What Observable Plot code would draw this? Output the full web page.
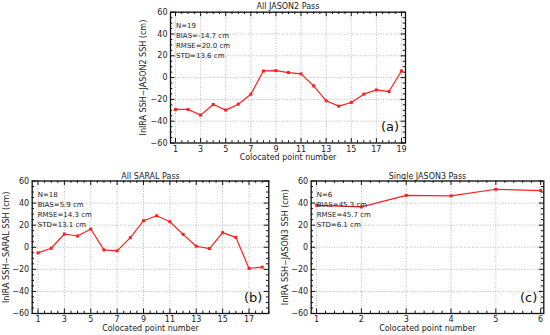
<!DOCTYPE html>
<html>
<head>
<meta charset="utf-8">
<script src="https://cdn.jsdelivr.net/npm/d3@7"></script>
<script src="https://cdn.jsdelivr.net/npm/@observablehq/plot@0.6"></script>
<style>
  html, body { margin: 0; padding: 0; background: #fff; }
  #wrap { position: relative; width: 550px; height: 335px; overflow: hidden; font-family: "DejaVu Sans", sans-serif; }
  #wrap > div { position: absolute; }
</style>
</head>
<body>
<div id="wrap">
  <div id="pa"></div>
  <div id="pb"></div>
  <div id="pc"></div>
</div>
<script>
// ---- Data ----
const pointsA = [1,2,3,4,5,6,7,8,9,10,11,12,13,14,15,16,17,18,19];
const diffA = [-29.2,-29.2,-34.4,-24.7,-29.8,-24.4,-15.2,6.1,6.4,4.6,3.4,-7.6,-21.3,-26.2,-22.8,-15.2,-11.3,-12.8,6.1];

const pointsB = [1,2,3,4,5,6,7,8,9,10,11,12,13,14,15,16,17,18];
const diffB = [-5.1,-0.9,12.0,10.2,16.5,-2.4,-3.3,8.7,24.0,28.5,23.1,11.7,0.9,-1.2,13.2,9.0,-19.2,-18.0];

const pointsC = [1,2,3,4,5,6];
const diffC = [38.0,36.5,47.0,46.5,52.5,51.3];

const titles = ["All JASON2 Pass", "All SARAL Pass", "Single JASON3 Pass"];
const yLabels = ["InIRA SSH\u2212JASON2 SSH (cm)", "InIRA SSH\u2212SARAL SSH (cm)", "InIRA SSH\u2212JASON3 SSH (cm)"];
const xLabel = "Colocated point number";
const statsA = ["N=19", "BIAS=-14.7 cm", "RMSE=20.0 cm", "STD=13.6 cm"];
const statsB = ["N=18", "BIAS=5.9 cm", "RMSE=14.3 cm", "STD=13.1 cm"];
const statsC = ["N=6", "BIAS=45.3 cm", "RMSE=45.7 cm", "STD=6.1 cm"];
const panelTags = ["(a)", "(b)", "(c)"];

const xTicksA = [1,3,5,7,9,11,13,15,17,19];
const xTicksB = [1,3,5,7,9,11,13,15,17];
const xTicksC = [1,2,3,4,5,6];
const yTicks = [-60,-40,-20,0,20,40,60];

// ---- Drawing ----
function panel(cfg) {
  const data = cfg.points.map((p, i) => ({x: p, y: cfg.values[i]}));
  const fw = cfg.width - cfg.ml - cfg.mr;
  const fh = cfg.height - cfg.mt - cfg.mb;
  const yMinor = d3.range(-60, 60.001, 5).filter(v => v % 20 !== 0);
  const xMinor = d3.range(Math.ceil(cfg.xDomain[0] / cfg.xMinorStep) * cfg.xMinorStep, cfg.xDomain[1] + 1e-9, cfg.xMinorStep)
    .map(v => +v.toFixed(4)).filter(v => !cfg.xTicks.includes(v));
  const major = 4.5, minor = 2.3, tickStroke = "#111";
  const gridStyle = {stroke: "#9a9a9a", strokeOpacity: 1, strokeWidth: 0.7, strokeDasharray: "1,1.6"};
  return Plot.plot({
    width: cfg.width, height: cfg.height,
    marginLeft: cfg.ml, marginRight: cfg.mr, marginTop: cfg.mt, marginBottom: cfg.mb,
    x: {domain: cfg.xDomain, label: null},
    y: {domain: [-60, 60], label: null},
    style: {fontFamily: "DejaVu Sans", fontSize: "8px", color: "#222", background: "transparent", overflow: "visible"},
    marks: [
      Plot.gridX(cfg.xTicks, gridStyle),
      Plot.gridY(yTicks, gridStyle),
      Plot.line(data, {x: "x", y: "y", stroke: "#ff1f1f", strokeWidth: 1.2}),
      Plot.dot(data, {x: "x", y: "y", symbol: "square", r: 1.7, fill: "#ff1f1f", stroke: "none"}),
      // inward major/minor ticks on all four sides
      Plot.tickX(cfg.xTicks, {x: d => d, insetTop: fh - major, stroke: tickStroke}),
      Plot.tickX(cfg.xTicks, {x: d => d, insetBottom: fh - major, stroke: tickStroke}),
      Plot.tickX(xMinor, {x: d => d, insetTop: fh - minor, stroke: tickStroke}),
      Plot.tickX(xMinor, {x: d => d, insetBottom: fh - minor, stroke: tickStroke}),
      Plot.tickY(yTicks, {y: d => d, insetRight: fw - major, stroke: tickStroke}),
      Plot.tickY(yTicks, {y: d => d, insetLeft: fw - major, stroke: tickStroke}),
      Plot.tickY(yMinor, {y: d => d, insetRight: fw - minor, stroke: tickStroke}),
      Plot.tickY(yMinor, {y: d => d, insetLeft: fw - minor, stroke: tickStroke}),
      Plot.frame({stroke: "#111", strokeWidth: 1.3}),
      Plot.axisX(cfg.xTicks, {tickSize: 0, tickPadding: 3, label: null, fontSize: 8}),
      Plot.axisY(yTicks, {tickSize: 0, tickPadding: 3, label: null, fontSize: 8}),
      Plot.text([cfg.title], {text: d => d, frameAnchor: "top", dy: cfg.titleDy, lineAnchor: "middle", fontSize: 8, fill: "#222"}),
      Plot.text([xLabel], {text: d => d, frameAnchor: "bottom", dy: cfg.xLabelDy, lineAnchor: "middle", fontSize: 8, fill: "#222"}),
      Plot.text([cfg.yLabel], {text: d => d, frameAnchor: "left", dx: cfg.yLabelDx, rotate: -90, textAnchor: "middle", lineAnchor: "middle", fontSize: 8, fill: "#222"}),
      Plot.text([cfg.stats.join("\n")], {text: d => d, frameAnchor: "top-left", dx: 5.5, dy: 9, textAnchor: "start", lineAnchor: "top", lineHeight: 1.42, fontSize: 7, fill: "#222"}),
      Plot.text([cfg.tag], {text: d => d, frameAnchor: "bottom-right", dx: -6.5, dy: -16, textAnchor: "end", lineAnchor: "middle", fontSize: 13, fill: "#111"})
    ]
  });
}

function place(id, left, top, node) {
  const el = document.getElementById(id);
  el.style.left = left + "px";
  el.style.top = top + "px";
  el.appendChild(node);
}

place("pa", 130, 0, panel({
  points: pointsA, values: diffA, xTicks: xTicksA, xDomain: [0.6, 19.32], xMinorStep: 0.5,
  width: 285, height: 165, ml: 40, mr: 10, mt: 11.7, mb: 22.5,
  title: titles[0], yLabel: yLabels[0], stats: statsA, tag: panelTags[0],
  titleDy: -5.7, xLabelDy: 14.5, yLabelDx: -27
}));

place("pb", 0, 165, panel({
  points: pointsB, values: diffB, xTicks: xTicksB, xDomain: [0.56, 18.5], xMinorStep: 0.5,
  width: 275, height: 170, ml: 31.7, mr: 6.7, mt: 15.5, mb: 22,
  title: titles[1], yLabel: yLabels[1], stats: statsB, tag: panelTags[1],
  titleDy: -4.5, xLabelDy: 15, yLabelDx: -25.7
}));

place("pc", 275, 165, panel({
  points: pointsC, values: diffC, xTicks: xTicksC, xDomain: [0.88, 6.07], xMinorStep: 0.2,
  width: 275, height: 170, ml: 35.7, mr: 6.7, mt: 15.5, mb: 22,
  title: titles[2], yLabel: yLabels[2], stats: statsC, tag: panelTags[2],
  titleDy: -4.5, xLabelDy: 15, yLabelDx: -25.7
}));
</script>
</body>
</html>
